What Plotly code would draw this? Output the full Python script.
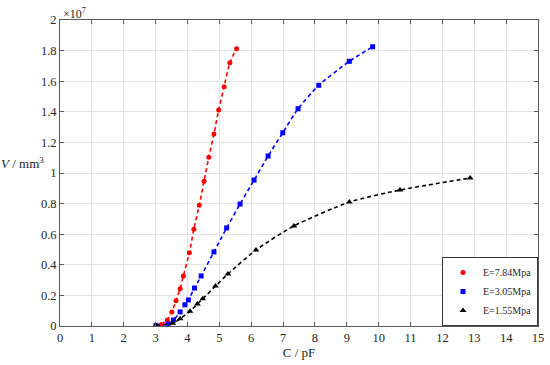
import plotly.graph_objects as go

# C / pF and V / (1e7 mm^3)
red_C = [3.18, 3.37, 3.51, 3.64, 3.77, 3.87, 4.06, 4.20, 4.37, 4.52, 4.67, 4.83, 4.98, 5.15, 5.33, 5.54]
red_V = [0.009, 0.039, 0.092, 0.165, 0.244, 0.327, 0.479, 0.632, 0.789, 0.946, 1.103, 1.255, 1.412, 1.564, 1.720, 1.812]

blue_C = [3.01, 3.39, 3.56, 3.77, 3.92, 4.03, 4.22, 4.43, 4.83, 5.23, 5.65, 6.09, 6.53, 6.99, 7.47, 8.12, 9.08, 9.81]
blue_V = [0.004, 0.013, 0.039, 0.092, 0.139, 0.170, 0.248, 0.327, 0.484, 0.641, 0.797, 0.954, 1.111, 1.263, 1.420, 1.573, 1.730, 1.825]

black_C = [3.01, 3.54, 3.77, 4.08, 4.31, 4.48, 4.88, 5.27, 6.15, 7.34, 9.08, 10.67, 12.87]
black_V = [0.004, 0.018, 0.048, 0.096, 0.144, 0.178, 0.261, 0.340, 0.497, 0.654, 0.810, 0.889, 0.967]

x_ticks = list(range(0, 16))
y_ticks = [0, 0.2, 0.4, 0.6, 0.8, 1, 1.2, 1.4, 1.6, 1.8, 2]
y_tick_text = ["0", "0.2", "0.4", "0.6", "0.8", "1", "1.2", "1.4", "1.6", "1.8", "2"]

names = ["E=7.84Mpa", "E=3.05Mpa", "E=1.55Mpa"]

FONT = "Liberation Serif, Times New Roman, serif"
fig = go.Figure()
series = [
    (red_C, red_V, "red", "circle", 5),
    (blue_C, blue_V, "blue", "square", 5),
    (black_C, black_V, "black", "triangle-up", 6),
]
for (cx, vy, col, sym, sz), nm in zip(series, names):
    fig.add_trace(go.Scatter(
        x=cx, y=vy, mode="lines", showlegend=False, hoverinfo="skip",
        line=dict(color=col, width=1.6, dash="4px,3px", shape="spline", smoothing=0.6),
    ))
    fig.add_trace(go.Scatter(
        x=cx, y=vy, mode="markers", name=nm,
        marker=dict(color=col, symbol=sym, size=sz),
    ))

axis_common = dict(
    showgrid=True, gridcolor="#e3e3e3", gridwidth=1,
    showline=True, linecolor="#5a5a5a", linewidth=1, mirror="ticks",
    ticks="inside", ticklen=4, tickcolor="#5a5a5a",
    tickfont=dict(family=FONT, size=12.5, color="#262626"),
    zeroline=False, automargin=False,
)
fig.update_xaxes(range=[0, 15], tickvals=x_ticks,
                 title=dict(text="C / pF", font=dict(family=FONT, size=13, color="#262626"), standoff=1),
                 **axis_common)
fig.update_yaxes(range=[0, 2], tickvals=y_ticks, ticktext=y_tick_text,
                 **axis_common)

fig.add_annotation(xref="paper", yref="paper", x=0, y=1, xanchor="left", yanchor="bottom",
                   text="×10<sup>7</sup>", showarrow=False, xshift=1, yshift=-3,
                   font=dict(family=FONT, size=12, color="#262626"))
# horizontal y-axis title, as in the reference
fig.add_annotation(xref="paper", yref="paper", x=0, y=0.533, xanchor="right", yanchor="middle",
                   text="<i>V</i> / mm<sup>3</sup>", showarrow=False, xshift=-14,
                   font=dict(family=FONT, size=13, color="#262626"))

fig.update_layout(
    width=550, height=365,
    margin=dict(l=60, r=12, t=20, b=39, autoexpand=False),
    paper_bgcolor="white", plot_bgcolor="white",
    showlegend=True,
    legend=dict(x=1, y=0, xanchor="right", yanchor="bottom",
                bgcolor="white", bordercolor="#333", borderwidth=1,
                font=dict(family=FONT, size=10, color="#262626"),
                itemsizing="trace", tracegroupgap=0, itemwidth=30),
)

# remove the default 8px page margin so the figure fills the window exactly
fig.write_html("out.html", config={"displayModeBar": False},
               post_script="document.body.style.margin='0';document.body.style.overflow='hidden';")
